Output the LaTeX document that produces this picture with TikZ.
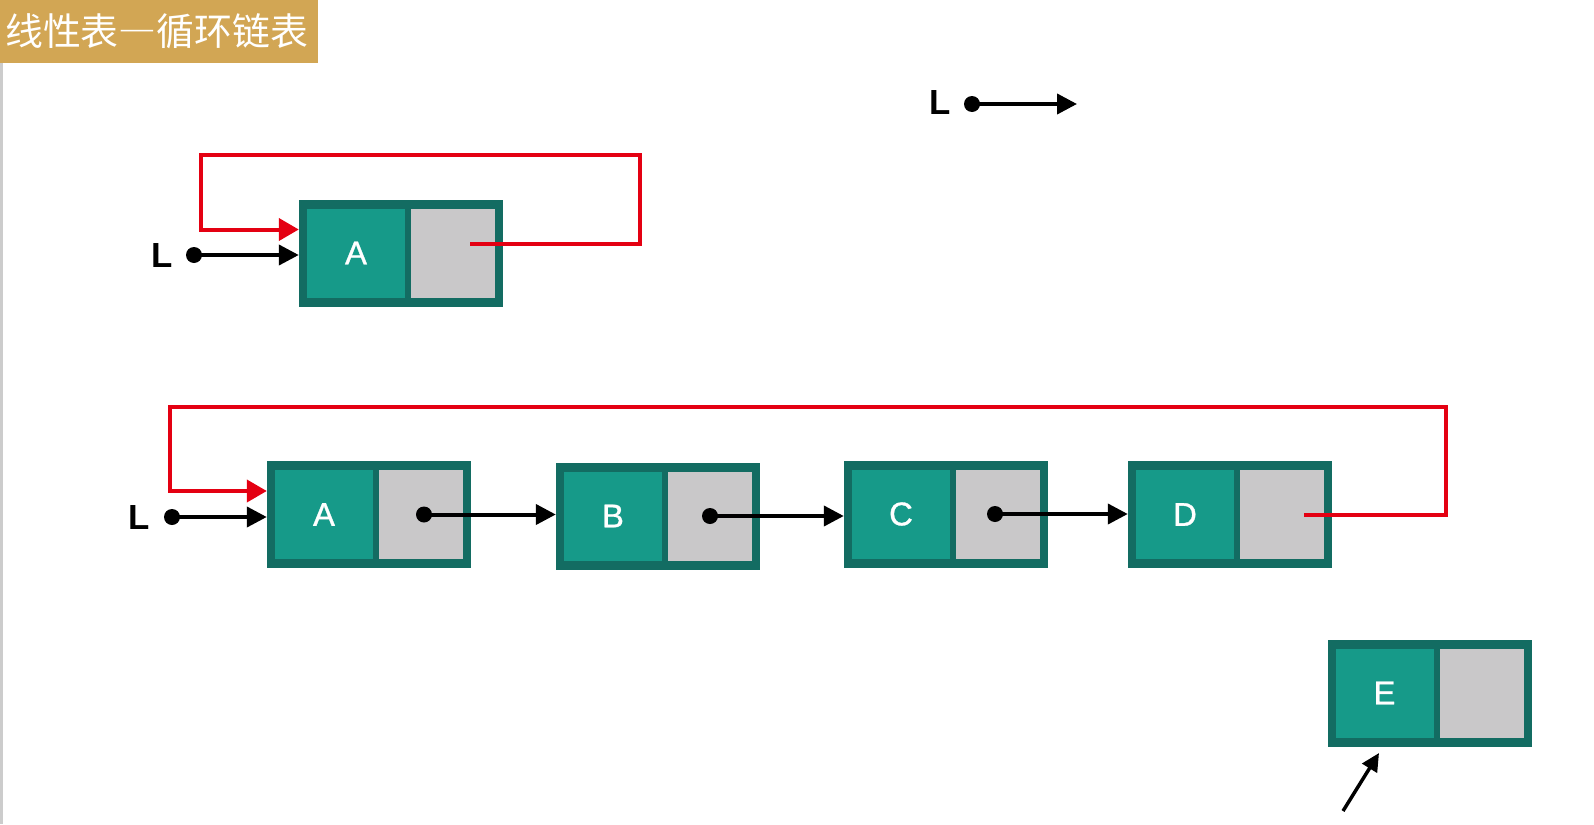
\documentclass[tikz,border=0pt]{standalone}
\usepackage{fontspec}
\setmainfont{Liberation Sans}
\newfontfamily\cjk{Noto Sans CJK SC}
\newfontfamily\letterfont[FakeBold=1]{Liberation Sans}
\usetikzlibrary{arrows.meta}
\definecolor{tealin}{RGB}{22,154,137}
\definecolor{tealout}{RGB}{19,108,98}
\definecolor{cellgray}{RGB}{201,200,201}
\definecolor{gold}{RGB}{210,166,84}
\definecolor{redl}{RGB}{228,0,18}
\tikzset{
  outerbox/.style={fill=tealout, minimum width=204bp, minimum height=107bp, inner sep=0pt},
  databox/.style={fill=tealin, minimum width=98bp, minimum height=89bp, inner sep=0pt,
    text=white, font=\letterfont\fontsize{33}{38}\selectfont, anchor=west},
  ptrbox/.style={fill=cellgray, minimum width=84bp, minimum height=89bp, inner sep=0pt, anchor=east},
  ptdot/.style={circle, fill=black, inner sep=0pt, minimum size=16bp},
  blk/.style={line width=4bp, black, -{Triangle[length=20bp,width=20bp]}},
  redarrow/.style={line width=4bp, redl, -{Triangle[length=20bp,width=22bp]}},
  lbl/.style={font=\bfseries\fontsize{35}{40}\selectfont, inner sep=0pt}
}
\begin{document}
\begin{tikzpicture}[x=1bp,y=-1bp]
\useasboundingbox (0,0) rectangle (1594,824);
\fill[white] (0,0) rectangle (1594,824);
% left strip and title
\fill[gray!40] (0,63) rectangle (3,824);
\node[fill=gold, anchor=north west, text width=308bp, inner xsep=5bp, inner ysep=0pt,
  minimum height=63bp, align=left, text=white, font=\cjk\fontsize{38}{44}\selectfont]
  (title) at (0,0) {线性表{\addfontfeatures{CharacterWidth=Full}—}循环链表};
% top single node
\node[outerbox] (A1) at (401,253) {};
\node[databox] (A1d) at ([xshift=8bp]A1.west) {A};
\node[ptrbox] (A1p) at ([xshift=-8bp]A1.east) {};
\node[lbl] (L1) at (162,256) {L};
\node[ptdot] (d1) at (194,255) {};
\draw[blk] (d1.center) -- (d1.center -| A1.west);
\coordinate (q1) at (640,155);
\coordinate (q2) at (201,155);
\draw[redarrow] ([shift={(17bp,9.5bp)}]A1p.center) -| (q1) -- (q2) |- ([yshift=23.5bp]A1.west);
% top right L
\node[lbl] (L3) at (940,103) {L};
\node[ptdot] (d3) at (972,104) {};
\coordinate (t3) at (1077,104);
\draw[blk] (d3.center) -- (t3);
% bottom list
\node[outerbox] (A2) at (369,514.5) {};
\node[databox] (A2d) at ([xshift=8bp]A2.west) {A};
\node[ptrbox] (A2p) at ([xshift=-8bp]A2.east) {};
\node[outerbox] (B) at (658,516) {};
\node[databox] (Bd) at ([xshift=8bp]B.west) {B};
\node[ptrbox] (Bp) at ([xshift=-8bp]B.east) {};
\node[outerbox] (C) at (946,514) {};
\node[databox] (Cd) at ([xshift=8bp]C.west) {C};
\node[ptrbox] (Cp) at ([xshift=-8bp]C.east) {};
\node[outerbox] (D) at (1230,514.5) {};
\node[databox] (Dd) at ([xshift=8bp]D.west) {D};
\node[ptrbox] (Dp) at ([xshift=-8bp]D.east) {};
\node[outerbox] (E) at (1429.5,693) {};
\node[databox] (Ed) at ([xshift=8bp]E.west) {E};
\node[ptrbox] (Ep) at ([xshift=-8bp]E.east) {};
\node[lbl] (L2) at (139,517) {L};
\node[ptdot] (d2) at (172,517) {};
\draw[blk] (d2.center) -- (d2.center -| A2.west);
\node[ptdot] (A2dot) at ([xshift=3bp]A2p.center) {};
\node[ptdot] (Bdot) at (Bp.center) {};
\node[ptdot] (Cdot) at ([xshift=-3bp]Cp.center) {};
\draw[blk] (A2dot.center) -- (A2dot.center -| B.west);
\draw[blk] (Bdot.center) -- (Bdot.center -| C.west);
\draw[blk] (Cdot.center) -- (Cdot.center -| D.west);
\coordinate (r1) at (1446,407);
\coordinate (r2) at (170,407);
\draw[redarrow] ([xshift=22bp]Dp.center) -| (r1) -- (r2) |- ([yshift=23.5bp]A2.west);
% arrow to E
\coordinate (e1) at (1343,811);
\coordinate (e2) at (1379,753);
\draw[line width=3.5bp, -{Triangle[length=18bp,width=17bp]}] (e1) -- (e2);
\end{tikzpicture}
\end{document}
